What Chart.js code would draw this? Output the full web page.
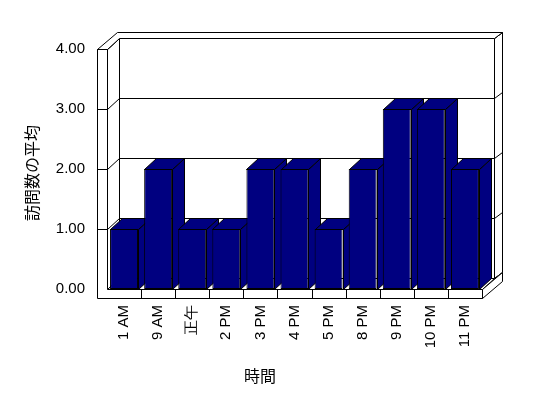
<!DOCTYPE html>
<html><head><meta charset="utf-8">
<script src="https://cdn.jsdelivr.net/npm/chart.js@4/dist/chart.umd.min.js"></script>
<style>html,body{margin:0;padding:0;background:#fff;}#wrap{width:548px;height:398px;}</style>
</head><body><div id="wrap"><canvas id="c" width="548" height="398"></canvas></div>
<script>
// ---- data ----
const categories = ['1 AM','9 AM','正午','2 PM','3 PM','4 PM','5 PM','8 PM','9 PM','10 PM','11 PM'];
const averageVisits = [1,2,1,1,2,2,1,2,3,3,2];
const yTickValues = [0,1,2,3,4];
const yAxisTitle = '訪問数の平均';
const xAxisTitle = '時間';

// ---- style ----
const BAR = '#000080';
const DX = 12, DY = -11;   // inner depth (bars, back wall inner face)
const OX = 20, OY = -17;   // outer depth (back wall outer face)
const WT = 10, FT = 9;     // wall / floor thickness
const TICK_FONT = {family:'Liberation Sans, Arial, sans-serif', size:15};
const TITLE_FONT = '16px "Noto Sans CJK JP", sans-serif';

const p = v => Math.round(v) + 0.5;
function poly(ctx, pts, fill){
  ctx.beginPath();
  pts.forEach((q,i)=> i ? ctx.lineTo(p(q[0]),p(q[1])) : ctx.moveTo(p(q[0]),p(q[1])));
  ctx.closePath();
  if (fill){ ctx.fillStyle = fill; ctx.fill(); }
  ctx.stroke();
}
function line(ctx,x1,y1,x2,y2){
  ctx.beginPath(); ctx.moveTo(p(x1),p(y1)); ctx.lineTo(p(x2),p(y2)); ctx.stroke();
}

const frame3d = {
  id:'frame3d',
  beforeDatasetsDraw(chart){
    const ctx = chart.ctx, {left:L, right:R, top:T, bottom:B} = chart.chartArea;
    const ys = chart.scales.y, xs = chart.scales.x;
    ctx.save();
    ctx.lineWidth = 1; ctx.strokeStyle = '#000';
    // back wall inner face + gridlines
    poly(ctx, [[L+DX,T+DY],[R+DX,T+DY],[R+DX,B+DY],[L+DX,B+DY]], '#fff');
    yTickValues.forEach(v => { const y = ys.getPixelForValue(v); line(ctx, L+DX, y+DY, R+DX, y+DY); });
    // left wall inner face
    poly(ctx, [[L,T],[L+DX,T+DY],[L+DX,B+DY],[L,B]], '#fff');
    yTickValues.forEach(v => { const y = ys.getPixelForValue(v); line(ctx, L, y, L+DX, y+DY); });
    // floor top
    poly(ctx, [[L,B],[R,B],[R+DX,B+DY],[L+DX,B+DY]], '#fff');
    // back wall right end face
    poly(ctx, [[R+DX,T+DY],[R+OX,T+OY],[R+OX,B+OY],[R+DX,B+DY]], '#fff');
    yTickValues.forEach(v => { const y = ys.getPixelForValue(v); line(ctx, R+DX, y+DY, R+OX, y+OY); });
    // top strip of left + back walls
    poly(ctx, [[L-WT,T],[L,T],[L+DX,T+DY],[R+DX,T+DY],[R+OX,T+OY],[L-WT+OX,T+OY]], '#fff');
    // left wall front + floor front
    poly(ctx, [[L-WT,T],[L,T],[L,B],[R,B],[R,B+FT],[L-WT,B+FT]], '#fff');
    yTickValues.forEach(v => { if (v===0) return; const y = ys.getPixelForValue(v); line(ctx, L-WT, y, L, y); });
    for (let i=0;i<categories.length-1;i++){
      const x = (xs.getPixelForValue(i)+xs.getPixelForValue(i+1))/2;
      line(ctx, x, B, x, B+FT);
    }
    // floor right end face
    poly(ctx, [[R,B],[R+OX,B+OY],[R+OX,B+FT+OY],[R,B+FT]], '#fff');
    // bar side + top faces
    const meta = chart.getDatasetMeta(0);
    meta.data.forEach(bar => {
      const {x,y,base,width} = bar.getProps(['x','y','base','width'], true);
      const l = x - width/2, r = x + width/2;
      poly(ctx, [[r,y],[r+DX,y+DY],[r+DX,base+DY],[r,base]], BAR);
      poly(ctx, [[l,y],[r,y],[r+DX,y+DY],[l+DX,y+DY]], BAR);
    });
    ctx.restore();
  },
  afterDraw(chart){
    const ctx = chart.ctx;
    ctx.save();
    ctx.fillStyle = '#000'; ctx.font = TITLE_FONT;
    ctx.textAlign = 'center'; ctx.textBaseline = 'middle';
    ctx.fillText(xAxisTitle, 260, 376);
    ctx.translate(32, 173); ctx.rotate(-Math.PI/2);
    ctx.fillText(yAxisTitle, 0, 0);
    ctx.restore();
  }
};

new Chart(document.getElementById('c'), {
  type:'bar',
  data:{ labels:categories, datasets:[{
    data:averageVisits, backgroundColor:BAR, borderColor:'#000', borderWidth:1,
    borderSkipped:false, categoryPercentage:0.82, barPercentage:1
  }]},
  options:{
    responsive:false, animation:false, devicePixelRatio:1,
    layout:{padding:{top:49,right:66,left:0,bottom:0}},
    plugins:{legend:{display:false}, tooltip:{enabled:false}},
    scales:{
      x:{ grid:{display:false, drawTicks:false}, border:{display:false},
          ticks:{maxRotation:90, minRotation:90, autoSkip:false, padding:16, font:TICK_FONT, color:'#000'},
          afterFit(s){ s.height = 109; } },
      y:{ min:0, max:4, grid:{display:false, drawTicks:false}, border:{display:false},
          afterBuildTicks(s){ s.ticks = yTickValues.map(v=>({value:v})); },
          ticks:{ padding:22, font:TICK_FONT, color:'#000', callback:v=>Number(v).toFixed(2)},
          afterFit(s){ s.width = 107; } }
    }
  },
  plugins:[frame3d]
});
</script></body></html>
